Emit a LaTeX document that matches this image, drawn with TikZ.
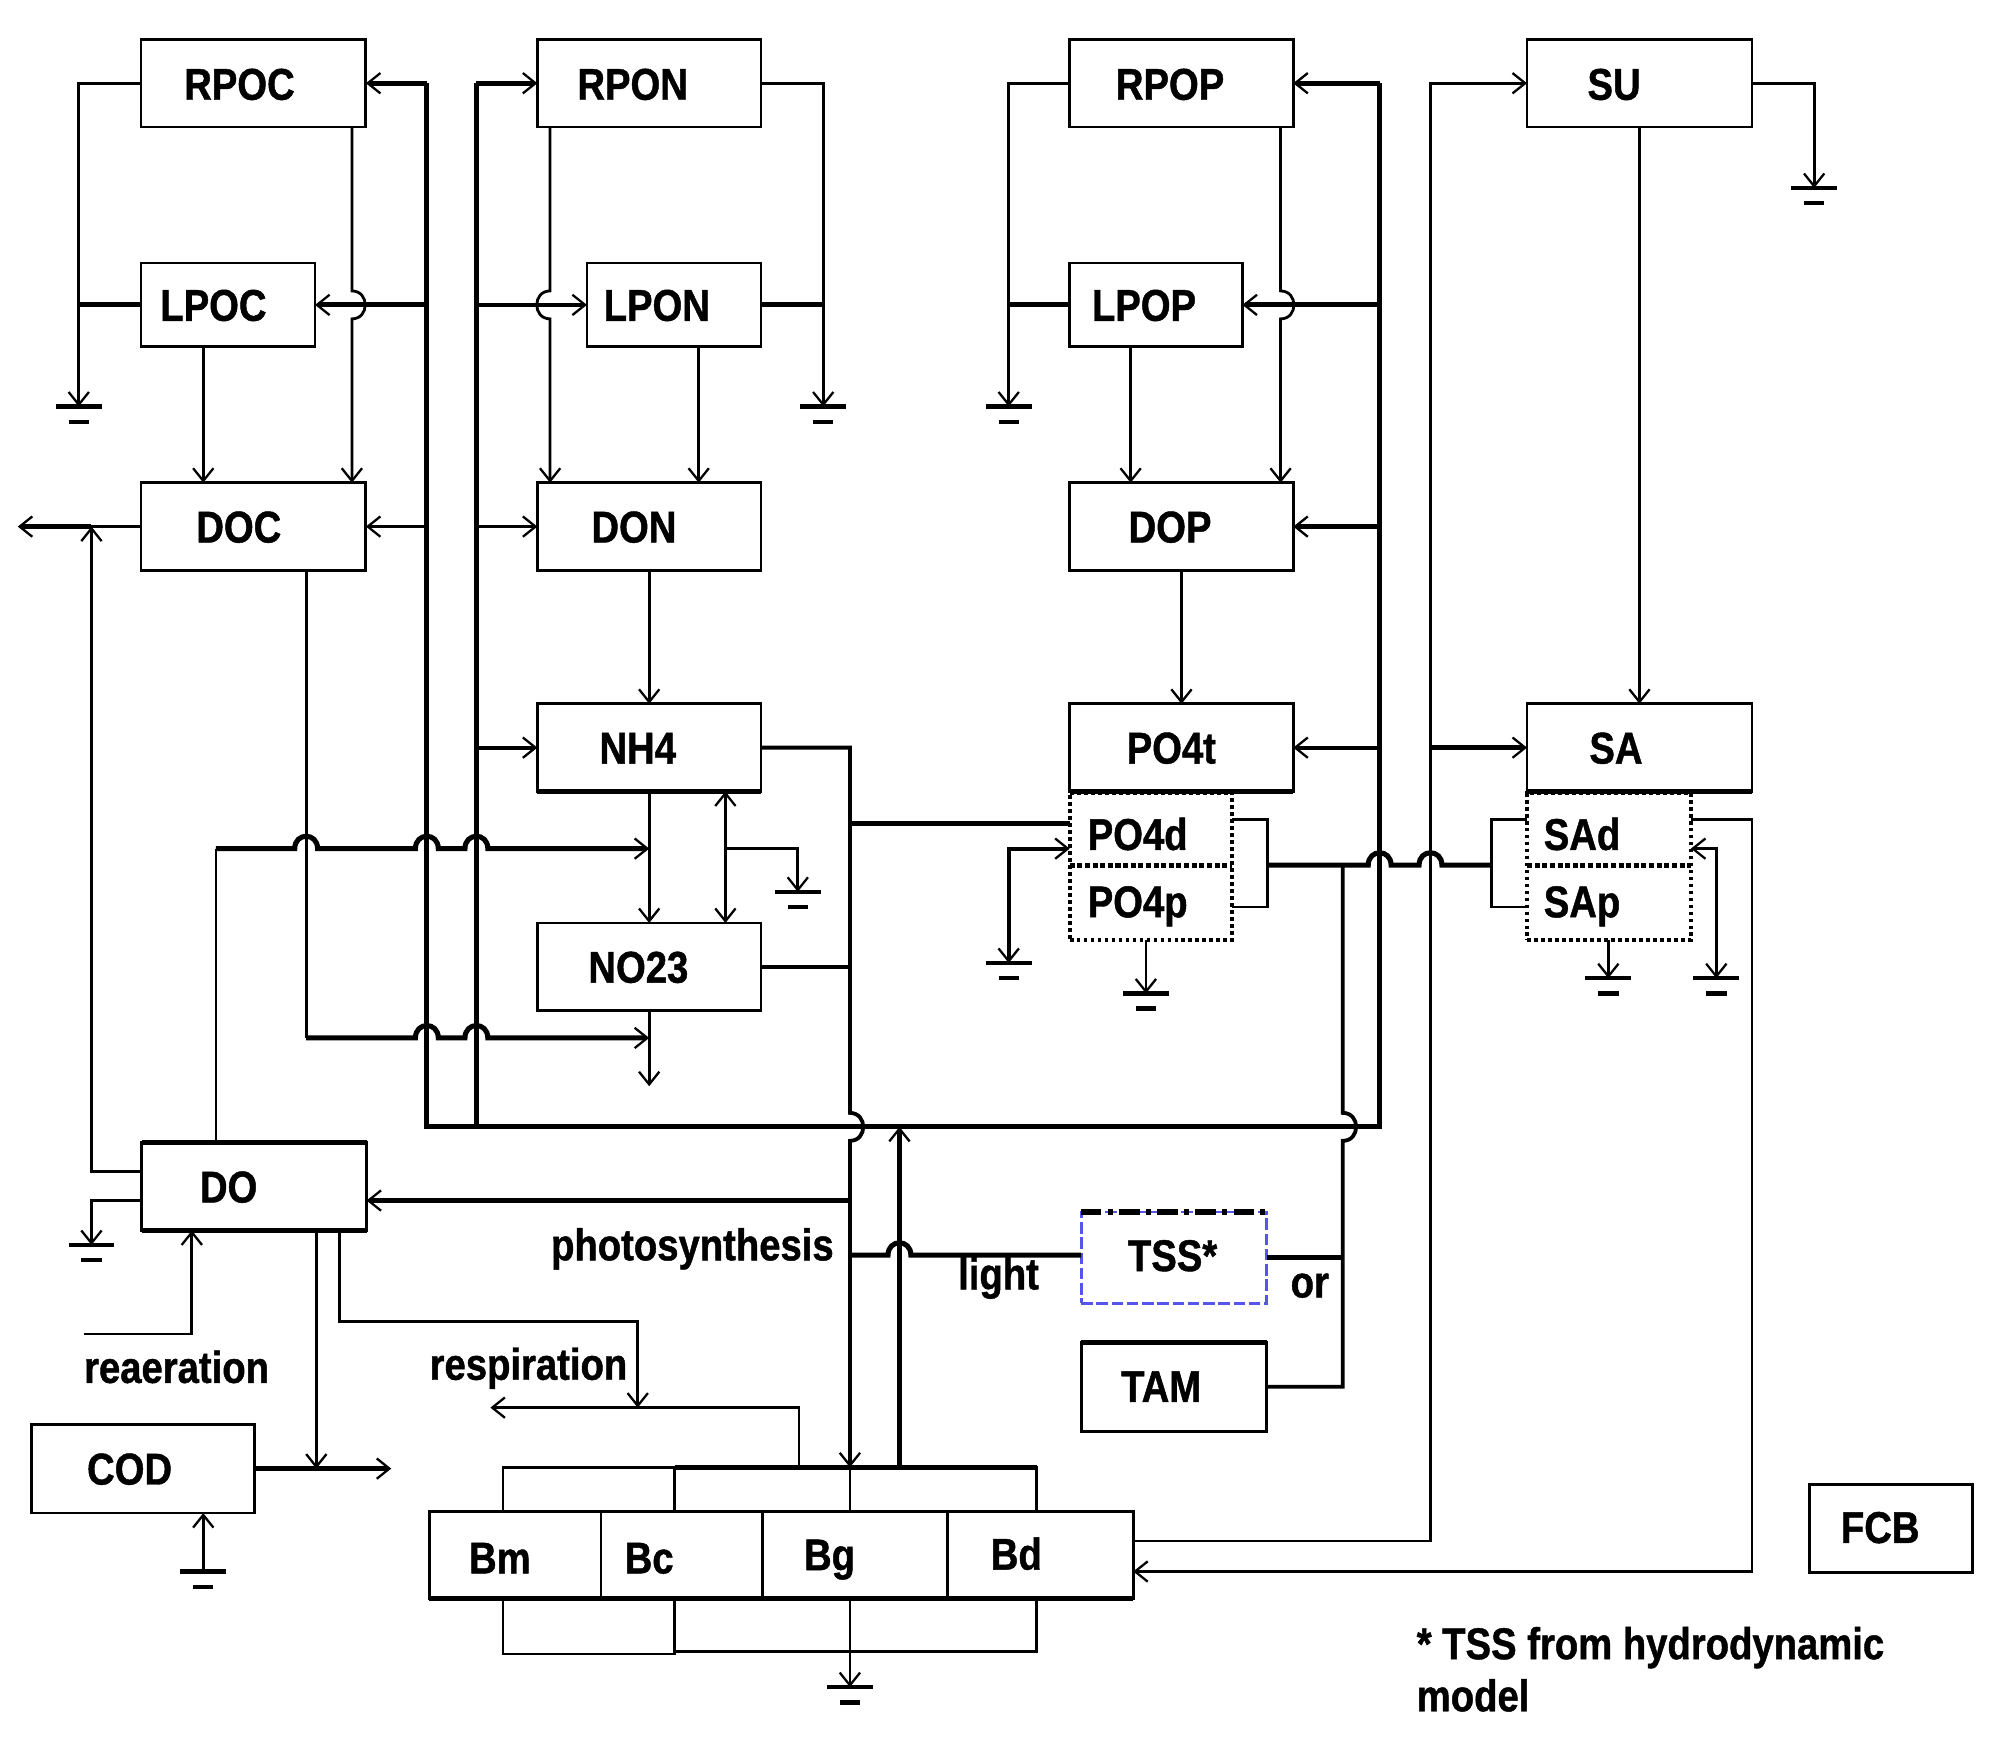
\documentclass[tikz,border=0pt]{standalone}
\usepackage{fontspec}
\setmainfont{Liberation Sans}[FakeStretch=0.86,FakeBold=1]
\usetikzlibrary{arrows.meta}
\definecolor{tssblue}{RGB}{85,85,235}
\newcommand\hopR[2]{-- (#1,#2-11) .. controls (#1+14,#2-11) and (#1+14,#2+11) .. (#1,#2+11)}
\newcommand\hopL[2]{-- (#1,#2-11) .. controls (#1-14,#2-11) and (#1-14,#2+11) .. (#1,#2+11)}
\newcommand\hopU[2]{-- (#1-9,#2) .. controls (#1-9,#2-13) and (#1+9,#2-13) .. (#1+9,#2)}
\begin{document}
\begin{tikzpicture}[x=1pt,y=-1pt,
  >={Straight Barb[length=10pt,width=16pt,line width=1.8pt 0]},
  th/.style={line width=2.2pt},
  md/.style={line width=3pt},
  tk/.style={line width=4pt},
  box/.style={draw,line width=2.2pt,inner sep=0pt,outer sep=0pt},
  fr/.style={draw,line width=2pt,inner sep=0pt,outer sep=0pt},
  dotbox/.style={draw,line width=3pt,dash pattern=on 3pt off 2.5pt,inner sep=0pt,outer sep=0pt},
  lbl/.style={font=\bfseries\fontsize{35}{40}\selectfont,inner sep=0pt,anchor=base},
  txt/.style={font=\bfseries\fontsize{35}{40}\selectfont,inner sep=0pt},
  gnd/.pic={\draw[line width=3.5pt] (-18,0)--(18,0); \draw[line width=3.5pt] (-8,12)--(8,12);}
]
\fill[white] (0,0) rectangle (1568,1368);
\useasboundingbox (0,0) rectangle (1568,1368);

% helper coordinates
\foreach \v in {62,72,151,160,170,241,249,267,277,336,375,433,473,502,511,550,571,600,629,669,708,746,794,890,902,998,1008,1057,1086,1126,1174,1266,1351,1379}
  {\coordinate (X\v) at (\v,0);}
\foreach \v in {645,648,668,681,714,817,887,922,945,988,1040,1108,1213,1237}
  {\coordinate (Y\v) at (0,\v);}
\coordinate (g1) at (62,320);
\coordinate (g2) at (648,320);
\coordinate (g3) at (628,702);
\coordinate (g4) at (794,320);
\coordinate (g5) at (794,758);
\coordinate (g6) at (902,782);
\coordinate (g7) at (1428,148);
\coordinate (g8) at (1351,770);
\coordinate (g9) at (1266,770);
\coordinate (gdo) at (72,980);
\coordinate (gcod) at (160,1237);
\coordinate (gb) at (669,1328);
\coordinate (out1) at (14,414.5);
\coordinate (out2) at (511,855);
\coordinate (out3) at (308,1156);
\coordinate (out4) at (386,1108);
\coordinate (rea) at (66,1050);

% boxes
\node[box,minimum width=177pt,minimum height=69pt] (rpoc) at (199.5,65.5) {};
\node[box,minimum width=137pt,minimum height=66pt] (lpoc) at (179.5,240) {};
\node[box,minimum width=177pt,minimum height=69pt] (doc) at (199.5,414.5) {};
\node[box,minimum width=176pt,minimum height=69pt] (rpon) at (511,65.5) {};
\node[box,minimum width=137pt,minimum height=66pt] (lpon) at (530.5,240) {};
\node[box,minimum width=176pt,minimum height=69pt] (don) at (511,414.5) {};
\node[box,minimum width=176pt,minimum height=69pt] (nh4) at (511,588.5) {};
\node[box,minimum width=176pt,minimum height=69pt] (no23) at (511,761) {};
\node[box,minimum width=176pt,minimum height=69pt] (rpop) at (930,65.5) {};
\node[box,minimum width=136pt,minimum height=66pt] (lpop) at (910,240) {};
\node[box,minimum width=176pt,minimum height=69pt] (dop) at (930,414.5) {};
\node[box,minimum width=176pt,minimum height=69pt] (po4t) at (930,588.5) {};
\node[dotbox,minimum width=128pt,minimum height=116pt] (po4dp) at (906,682) {};
\node[box,minimum width=177pt,minimum height=69pt] (su) at (1290.5,65.5) {};
\node[box,minimum width=177pt,minimum height=69pt] (sa) at (1290.5,588.5) {};
\node[dotbox,minimum width=129pt,minimum height=116pt] (sadp) at (1266.5,682) {};
\node[box,minimum width=177pt,minimum height=69pt] (do) at (200,934) {};
\node[box,minimum width=176pt,minimum height=70pt] (cod) at (112.5,1156) {};
\node[draw=tssblue,line width=2.2pt,dash pattern=on 9pt off 3pt,inner sep=0pt,outer sep=0pt,minimum width=146pt,minimum height=72pt] (tss) at (924,990) {};
\node[box,minimum width=146pt,minimum height=70pt] (tam) at (924,1091.5) {};
\node[box,minimum width=128pt,minimum height=69pt] (fcb) at (1488.5,1203) {};
\node[fr,minimum width=135pt,minimum height=35pt] (bfr1) at (463.5,1172.5) {};
\node[fr,minimum width=285pt,minimum height=35pt] (bfr2) at (673.5,1172.5) {};
\node[fr,minimum width=135pt,minimum height=44pt] (bfr3) at (463.5,1280) {};
\node[fr,minimum width=285pt,minimum height=42pt] (bfr4) at (673.5,1279) {};
\node[box,minimum width=554pt,minimum height=68pt] (bbox) at (615,1224) {};

% thick edges
\draw[tk] (nh4.south west) -- (nh4.south east);
\draw[tk] (po4t.south west) -- (po4t.south east);
\draw[tk] (sa.south west) -- (sa.south east);
\draw[tk] (do.north west) -- (do.north east);
\draw[tk] (do.south west) -- (do.south east);
\draw[tk] (tam.north west) -- (tam.north east);
\draw[tk] (bbox.south west) -- (bbox.south east);
\draw[tk] (bfr2.north west) -- (bfr2.north east);
\draw[line width=4pt,dash pattern=on 16pt off 5pt on 4pt off 5pt] (tss.north west) -- (tss.north east);
\draw[line width=4pt,dash pattern=on 4pt off 2pt] (po4dp.west |- Y681) -- (po4dp.east |- Y681);
\draw[line width=4pt,dash pattern=on 4pt off 2pt] (sadp.west |- Y681) -- (sadp.east |- Y681);
\draw[box] (bbox.north -| X473) -- (bbox.south -| X473);
\draw[box] (bbox.north -| X600) -- (bbox.south -| X600);
\draw[box] (bbox.north -| X746) -- (bbox.south -| X746);

% C column
\draw[th,->] (rpoc.west) -| (g1);
\draw[tk] (lpoc.west) -- (lpoc.west -| g1);
\draw[th,->] (rpoc.south -| X277) \hopR{277}{240} -- (doc.north -| X277);
\draw[th,->] (lpoc.south -| X160) -- (doc.north -| X160);
\draw[tk] (X336 |- rpoc.east) -- (X336 |- Y887) -- (X1086 |- Y887) -- (X1086 |- rpop.east);
\draw[tk,->] (X336 |- rpoc.east) -- (rpoc.east);
\draw[tk,->] (X336 |- lpoc.east) -- (lpoc.east);
\draw[md,->] (X336 |- doc.east) -- (doc.east);

% N column
\draw[tk] (X375 |- rpon.west) -- (X375 |- Y887);
\draw[tk,->] (X375 |- rpon.west) -- (rpon.west);
\draw[md,->] (X375 |- lpon.west) -- (lpon.west);
\draw[md,->] (X375 |- don.west) -- (don.west);
\draw[md,->] (X375 |- nh4.west) -- (nh4.west);
\draw[th,->] (rpon.south -| X433) \hopL{433}{240} -- (don.north -| X433);
\draw[th,->] (lpon.south -| X550) -- (don.north -| X550);
\draw[th,->] (rpon.east) -| (g2);
\draw[tk] (lpon.east) -- (lpon.east -| g2);
\draw[th,->] (don.south) -- (nh4.north);
\draw[th,->] (nh4.south) -- (no23.north);
\draw[th,<->] (nh4.south -| X571) -- (no23.north -| X571);
\draw[th,->] (X571 |- Y668) -| (g3);
\draw[th,->] (no23.south) -- (out2);

% main vertical and links
\draw[md,->] (nh4.east) -- (nh4.east -| X669) \hopR{669}{887} -- (bfr2.north -| X669);
\draw[th] (bfr2.north -| X669) -- (bbox.north -| X669);
\draw[th,->] (bbox.south -| X669) -- (gb);
\draw[md] (no23.east) -- (no23.east -| X669);
\draw[tk] (X669 |- Y648) -- (po4dp.west |- Y648);
\draw[tk,->] (X669 |- Y945) -- (do.east |- Y945);
\draw[tk] (X669 |- Y988) \hopU{708}{988} -- (tss.west |- Y988);
\draw[tk,->] (bfr2.north -| X708) -- (X708 |- Y887);

% DOC and DO
\draw[th] (doc.west) -- (doc.west -| X72);
\draw[tk,->] (doc.west -| X72) -- (out1);
\draw[th,->] (do.west |- Y922) -| (X72 |- doc.west);
\draw[th,->] (do.west |- Y945) -| (gdo);
\draw[th] (doc.south -| X241) -- (X241 |- Y817);
\draw[tk,->] (X241 |- Y817) \hopU{336}{817} \hopU{375}{817} -- (X511 |- Y817);
\draw[th] (do.north -| X170) -- (X170 |- Y668);
\draw[tk,->] (X170 |- Y668) \hopU{241}{668} \hopU{336}{668} \hopU{375}{668} -- (X511 |- Y668);
\draw[th,->] (rea) -| (do.south -| X151);
\draw[th,->] (do.south -| X249) -- (X249 |- cod.east);
\draw[tk,->] (cod.east) -- (out3);
\draw[th,->] (gcod) -- (cod.south -| X160);
\draw[th,->] (do.south -| X267) |- (X502 |- Y1040) -- (X502 |- Y1108);
\draw[th,->] (bfr2.north -| X629) |- (out4);

% P column
\draw[th,->] (rpop.west) -| (g4);
\draw[tk] (lpop.west) -- (lpop.west -| g4);
\draw[th,->] (rpop.south -| X1008) \hopR{1008}{240} -- (dop.north -| X1008);
\draw[th,->] (lpop.south -| X890) -- (dop.north -| X890);
\draw[tk,->] (X1086 |- rpop.east) -- (rpop.east);
\draw[tk,->] (X1086 |- lpop.east) -- (lpop.east);
\draw[tk,->] (X1086 |- dop.east) -- (dop.east);
\draw[md,->] (X1086 |- po4t.east) -- (po4t.east);
\draw[th,->] (dop.south) -- (po4t.north);
\draw[th] (po4dp.east |- Y645) -| (X998 |- Y714) -- (po4dp.east |- Y714);
\draw[tk] (X998 |- Y681) \hopU{1086}{681} \hopU{1126}{681} -- (X1174 |- Y681);
\draw[th] (sadp.west |- Y645) -| (X1174 |- Y714) -- (sadp.west |- Y714);
\draw[md] (X1057 |- Y681) \hopR{1057}{887} -- (X1057 |- tam.east) -- (tam.east);
\draw[tk] (tss.east) -- (tss.east -| X1057);
\draw[md,<->] (g5) -- (X794 |- Y668) -- (po4dp.west |- Y668);
\draw[th,->] (po4dp.south -| X902) -- (g6);

% Si
\draw[th,->] (su.east) -| (g7);
\draw[th,->] (su.south) -- (sa.north);
\draw[th,->] (bbox.east |- Y1213) -| (X1126 |- su.west) -- (su.west);
\draw[tk,->] (X1126 |- sa.west) -- (sa.west);
\draw[th,->] (sadp.east |- Y645) -| (X1379 |- Y1237) -- (bbox.east |- Y1237);
\draw[th,<->] (g8) -- (X1351 |- Y668) -- (sadp.east |- Y668);
\draw[th,->] (sadp.south -| X1266) -- (g9);

% grounds
\foreach \g in {g1,g2,g3,g4,g5,g6,g7,g8,g9,gdo,gcod,gb} {\pic at (\g) {gnd};}

% labels
\node[lbl] (tRPOC) at (188.5,78.5) {RPOC};
\node[lbl] (tLPOC) at (168,252.5) {LPOC};
\node[lbl] (tDOC) at (188,427) {DOC};
\node[lbl] (tRPON) at (498,78.5) {RPON};
\node[lbl] (tLPON) at (517,252.5) {LPON};
\node[lbl] (tDON) at (499,427) {DON};
\node[lbl] (tNH4) at (502,601) {NH4};
\node[lbl] (tNO23) at (502.5,773.5) {NO23};
\node[lbl] (tRPOP) at (921,78.5) {RPOP};
\node[lbl] (tLPOP) at (900.5,252.5) {LPOP};
\node[lbl] (tDOP) at (921,427) {DOP};
\node[lbl] (tPO4t) at (922,601) {PO4t};
\node[lbl,anchor=base west] (tPO4d) at (856,669) {PO4d};
\node[lbl,anchor=base west] (tPO4p) at (856,722) {PO4p};
\node[lbl] (tSU) at (1270.5,78.5) {SU};
\node[lbl] (tSA) at (1272,601) {SA};
\node[lbl,anchor=base west] (tSAd) at (1215,669) {SAd};
\node[lbl,anchor=base west] (tSAp) at (1215,722) {SAp};
\node[lbl] (tDO) at (180,946.5) {DO};
\node[lbl] (tCOD) at (102,1168.5) {COD};
\node[lbl] (tTSS) at (923,1000.5) {TSS*};
\node[lbl] (tTAM) at (914,1103.5) {TAM};
\node[lbl] (tFCB) at (1480,1214.5) {FCB};
\node[lbl] (tBm) at (393.5,1238.5) {Bm};
\node[lbl] (tBc) at (511,1238.5) {Bc};
\node[lbl] (tBg) at (653,1236) {Bg};
\node[lbl] (tBd) at (800,1235.5) {Bd};
\node[txt] (tphot) at (545,983) {photosynthesis};
\node[txt] (tlight) at (786,1006) {light};
\node[txt] (tor) at (1031,1012) {or};
\node[txt] (trea) at (139,1076) {reaeration};
\node[txt] (tresp) at (416,1077) {respiration};
\node[lbl,anchor=base west] (tnote1) at (1115,1306) {* TSS from hydrodynamic};
\node[lbl,anchor=base west] (tnote2) at (1115,1347) {model};
\end{tikzpicture}
\end{document}
